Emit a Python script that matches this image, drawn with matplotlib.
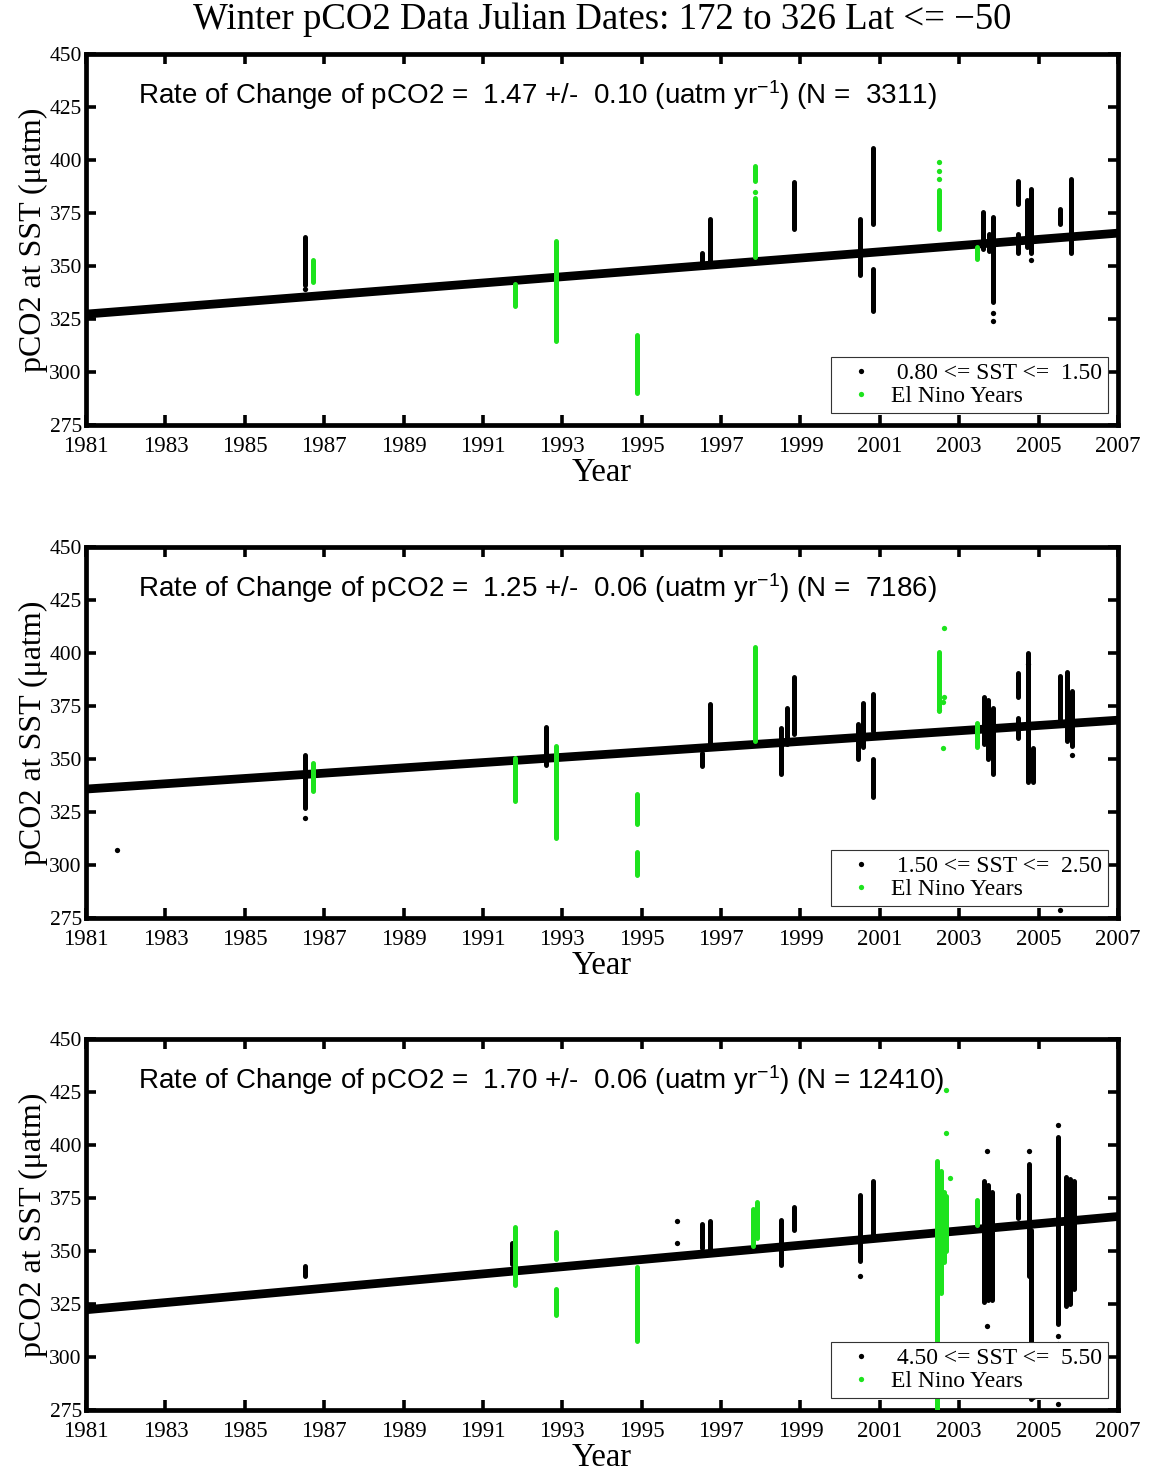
import matplotlib
matplotlib.use("Agg")
import matplotlib.pyplot as plt
from matplotlib.lines import Line2D

plt.rcParams['mathtext.fontset'] = 'custom'
plt.rcParams['mathtext.rm'] = 'Liberation Sans'
plt.rcParams['mathtext.it'] = 'Liberation Sans:italic'

SERIF = 'Liberation Serif'
SANS = 'Liberation Sans'
GREEN = '#1de31d'

title = "Winter pCO2 Data Julian Dates: 172 to 326 Lat <= \u221250"
year_ticks = list(range(1981, 2008, 2))
pco2_ticks = list(range(275, 451, 25))

# ---------------- Panel 1 : 0.80 <= SST <= 1.50 ----------------
p1_sst = (0.80, 1.50)
p1_rate, p1_err, p1_n = 1.47, 0.10, 3311
p1_trend_x = [1981, 2007]
p1_trend_y = [327.3, 365.5]
p1_black_x = [1986.51, 1996.52, 1996.72, 1998.85, 2000.50, 2000.84, 2000.84, 2003.60, 2003.75,
              2003.85, 2004.47, 2004.47, 2004.71, 2004.82, 2005.53, 2005.82]
p1_black_lo = [341.0, 351.0, 352.0, 367.6, 345.6, 370.0, 329.0, 358.0, 357.0,
               333.0, 379.3, 356.0, 359.0, 356.0, 370.0, 356.0]
p1_black_hi = [363.5, 356.0, 372.0, 389.5, 372.3, 405.5, 348.7, 375.4, 365.0,
               373.0, 390.3, 365.0, 381.0, 386.4, 377.0, 391.0]
p1_bdot_x = [1986.51, 2003.85, 2003.85, 2004.82]
p1_bdot_y = [339.0, 324.0, 328.0, 353.0]
p1_green_x = [1986.73, 1991.80, 1992.84, 1994.87, 1997.86, 1997.86, 2002.50, 2003.46]
p1_green_lo = [342.3, 331.0, 314.6, 290.0, 354.2, 390.0, 367.6, 353.4]
p1_green_hi = [352.7, 341.4, 361.8, 317.4, 382.0, 397.3, 386.0, 359.0]
p1_gdot_x = [2002.50, 2002.50, 2002.50, 1997.86]
p1_gdot_y = [391.0, 395.0, 399.0, 385.0]

# ---------------- Panel 2 : 1.50 <= SST <= 2.50 ----------------
p2_sst = (1.50, 2.50)
p2_rate, p2_err, p2_n = 1.25, 0.06, 7186
p2_trend_x = [1981, 2007]
p2_trend_y = [335.8, 368.3]
p2_black_x = [1986.51, 1992.60, 1996.52, 1996.72, 1998.52, 1998.66, 1998.85, 2000.45, 2000.58,
              2000.84, 2000.84, 2003.62, 2003.72, 2003.85, 2004.47, 2004.47, 2004.73, 2004.85,
              2005.53, 2005.72, 2005.84]
p2_black_lo = [326.7, 347.0, 346.7, 356.3, 343.0, 357.0, 362.0, 350.0, 355.5,
               363.3, 332.0, 357.0, 350.0, 343.0, 379.0, 360.0, 339.0, 339.0,
               368.8, 358.6, 356.0]
p2_black_hi = [351.7, 365.0, 353.0, 375.8, 364.8, 374.0, 388.6, 366.4, 376.6,
               380.5, 350.0, 379.0, 378.0, 374.0, 390.6, 369.5, 400.0, 355.0,
               389.0, 391.0, 382.0]
p2_bdot_x = [1981.79, 1986.51, 2005.84, 2005.53, 2004.73]
p2_bdot_y = [307.0, 322.0, 352.0, 278.8, 395.0]
p2_green_x = [1986.73, 1991.80, 1992.84, 1994.87, 1994.87, 1997.85, 2002.50, 2003.46]
p2_green_lo = [335.0, 330.0, 312.5, 319.2, 295.3, 358.6, 372.5, 355.5]
p2_green_hi = [348.0, 350.3, 356.0, 333.3, 306.3, 403.0, 400.6, 367.0]
p2_gdot_x = [2002.62, 2002.60, 2002.60, 2002.48, 2002.62]
p2_gdot_y = [411.7, 377.0, 355.0, 373.0, 379.0]

# ---------------- Panel 3 : 4.50 <= SST <= 5.50 ----------------
p3_sst = (4.50, 5.50)
p3_rate, p3_err, p3_n = 1.70, 0.06, 12410
p3_trend_x = [1981, 2007]
p3_trend_y = [322.3, 366.3]
p3_black_x = [1986.51, 1991.73, 1996.52, 1996.72, 1998.51, 1998.85, 2000.50, 2000.84, 2003.62,
              2003.72, 2003.82, 2004.47, 2004.75, 2004.82, 2005.48, 2005.70, 2005.80, 2005.88]
p3_black_lo = [338.0, 344.0, 351.6, 350.0, 343.6, 360.0, 345.2, 357.8, 325.8,
               327.0, 327.0, 365.6, 338.0, 280.0, 315.6, 324.0, 325.0, 332.0]
p3_black_hi = [342.8, 354.0, 362.6, 364.0, 364.8, 371.0, 376.6, 382.9, 383.0,
               381.0, 378.0, 376.6, 391.0, 360.0, 404.0, 385.0, 384.0, 383.0]
p3_bdot_x = [1995.90, 1995.90, 2000.50, 2003.70, 2003.70, 2004.75, 2005.48, 2005.48, 2005.48,
             2005.48, 2004.87]
p3_bdot_y = [364.0, 354.0, 338.0, 397.0, 314.7, 397.0, 409.7, 310.0, 306.0, 278.0, 281.0]
p3_green_x = [1991.80, 1992.84, 1992.84, 1994.87, 1997.80, 1997.90, 2002.45, 2002.55, 2002.62,
              2002.68, 2003.46]
p3_green_lo = [334.0, 346.4, 319.8, 307.4, 352.6, 356.0, 270.0, 330.0, 345.0, 350.0, 362.5]
p3_green_hi = [361.2, 358.9, 332.3, 342.7, 370.0, 373.0, 392.5, 388.0, 378.0, 376.0, 374.0]
p3_gdot_x = [2002.68, 2002.68, 2002.78]
p3_gdot_y = [426.0, 405.8, 384.6]

panels = [
    dict(sst=p1_sst, rate=p1_rate, err=p1_err, n=p1_n, tx=p1_trend_x, ty=p1_trend_y,
         bx=p1_black_x, blo=p1_black_lo, bhi=p1_black_hi, bdx=p1_bdot_x, bdy=p1_bdot_y,
         gx=p1_green_x, glo=p1_green_lo, ghi=p1_green_hi, gdx=p1_gdot_x, gdy=p1_gdot_y,
         bottom=0.7113),
    dict(sst=p2_sst, rate=p2_rate, err=p2_err, n=p2_n, tx=p2_trend_x, ty=p2_trend_y,
         bx=p2_black_x, blo=p2_black_lo, bhi=p2_black_hi, bdx=p2_bdot_x, bdy=p2_bdot_y,
         gx=p2_green_x, glo=p2_green_lo, ghi=p2_green_hi, gdx=p2_gdot_x, gdy=p2_gdot_y,
         bottom=0.3764),
    dict(sst=p3_sst, rate=p3_rate, err=p3_err, n=p3_n, tx=p3_trend_x, ty=p3_trend_y,
         bx=p3_black_x, blo=p3_black_lo, bhi=p3_black_hi, bdx=p3_bdot_x, bdy=p3_bdot_y,
         gx=p3_green_x, glo=p3_green_lo, ghi=p3_green_hi, gdx=p3_gdot_x, gdy=p3_gdot_y,
         bottom=0.0421),
]

fig = plt.figure(figsize=(11.51, 14.72), dpi=100)
fig.text(0.5236, 0.9864, title, ha='center', va='center', fontsize=26.5, family=SERIF)

for p in panels:
    ax = fig.add_axes([0.0747, p['bottom'], 0.8966, 0.252])
    ax.plot(p['tx'], p['ty'], color='black', lw=6.3, solid_capstyle='butt', zorder=2)
    ax.vlines(p['bx'], p['blo'], p['bhi'], colors='black', lw=3.6, capstyle='round', zorder=3)
    ax.plot(p['bdx'], p['bdy'], 'o', color='black', ms=3.8, mew=0, zorder=3)
    ax.vlines(p['gx'], p['glo'], p['ghi'], colors=GREEN, lw=3.6, capstyle='round', zorder=3)
    ax.plot(p['gdx'], p['gdy'], 'o', color=GREEN, ms=3.8, mew=0, zorder=3)

    ax.set_xlim(1981, 2007)
    ax.set_ylim(275, 450)
    ax.set_xticks(year_ticks)
    ax.set_yticks(pco2_ticks)
    ax.set_xticklabels([str(t) for t in year_ticks], family=SERIF, fontsize=16.5)
    ax.set_yticklabels([str(t) for t in pco2_ticks], family=SERIF, fontsize=15.5)
    ax.tick_params(direction='in', length=7, width=2.6, top=True, right=True)
    ax.tick_params(axis='x', pad=8)
    ax.tick_params(axis='y', pad=3)
    for s in ax.spines.values():
        s.set_linewidth(3.4)
    ax.set_xlabel('Year', family=SERIF, fontsize=23.5, labelpad=0)
    ax.set_ylabel('pCO2 at SST (\u03bcatm)', family=SERIF, fontsize=23, labelpad=1)

    txt = ("Rate of Change of pCO2 =  %4.2f +/-  %4.2f (uatm yr$^{-1}$) (N =%6d)"
           % (p['rate'], p['err'], p['n']))
    ax.text(0.0504, 0.889, txt, transform=ax.transAxes, ha='left', va='center',
            family=SANS, fontsize=20)

    lo, hi = p['sst']
    handles = [Line2D([], [], ls='none', marker='o', ms=3.8, mew=0, color='black'),
               Line2D([], [], ls='none', marker='o', ms=3.8, mew=0, color=GREEN)]
    labels = [' %4.2f <= SST <= %5.2f' % (lo, hi), 'El Nino Years']
    leg = ax.legend(handles, labels, loc='lower right', bbox_to_anchor=(0.990, 0.032),
                    prop={'family': SERIF, 'size': 17}, frameon=True, fancybox=False,
                    edgecolor='#333333', framealpha=1, borderpad=0.25, labelspacing=0.06,
                    handlelength=2.1, handletextpad=0.2, borderaxespad=0)
    leg.get_frame().set_linewidth(0.8)

fig.savefig('out.png', dpi=100)
